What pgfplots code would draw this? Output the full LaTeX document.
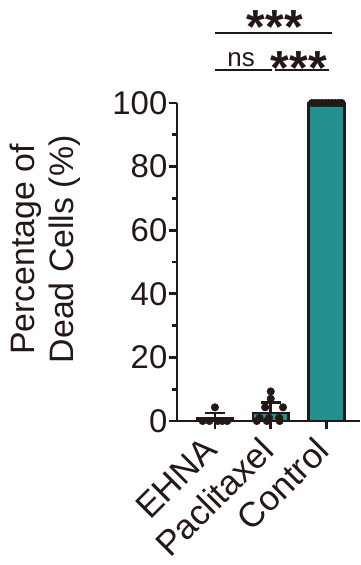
\documentclass[border=0pt]{standalone}
\usepackage{pgfplots}
\pgfplotsset{compat=1.18}
\usepackage{fontspec}
\setmainfont{Liberation Sans}
\definecolor{ink}{HTML}{231815}
\definecolor{tealbar}{HTML}{23908E}
\begin{document}
\begin{tikzpicture}
\path[use as bounding box] (-177bp,-144bp) rectangle (184bp,421bp);
\begin{axis}[
  scale only axis, width=183bp, height=318bp,
  xmin=-0.68, xmax=2.6, ymin=0, ymax=100,
  axis x line*=bottom, axis y line*=left,
  axis line style={ink, line width=2.8bp, -},
  xtick={0,1,2}, xticklabels={EHNA,Paclitaxel,Control},
  ytick={0,20,...,100}, minor ytick={10,30,...,90},
  tick align=outside, major tick length=8bp, minor tick length=5bp,
  every tick/.style={ink, line width=2.8bp},
  ticklabel style={font=\fontsize{33}{38}\selectfont, text=ink},
  yticklabel style={inner sep=1.5bp},
  xticklabel style={font=\fontsize{35}{38}\selectfont, xshift=-13bp, yshift=-6bp, rotate=45, anchor=north east, inner sep=0pt},
  ylabel={Percentage of\\Dead Cells (\%)},
  ylabel style={at={(axis description cs:-0.72,0.54)}, anchor=center, align=center, font=\fontsize{34}{40}\selectfont, text=ink},
  clip=false, axis on top,
  /pgf/number format/assume math mode=true,
]
\addplot[ybar, bar width=0.64, fill=tealbar, draw=ink, line width=2.5bp,
  error bars/.cd, y dir=plus, y explicit,
  error bar style={line width=2.5bp, ink},
  error mark options={rotate=90, line width=2.5bp, ink, mark size=10bp}]
  coordinates {(0,0.72) +- (0,1.75) (1,2.54) +- (0,3.24) (2,100) +- (0,0)};
\addplot[only marks, mark=*, mark size=3.8bp, mark options={fill=ink, draw=ink}]
  coordinates {(0,4.3) (-0.22,0) (-0.1,0) (0.05,0) (0.13,0) (0.22,0)
  (1.0,9.3) (1.0,7.0) (0.9,4.3) (1.22,4.3) (0.8,1.0) (0.97,1.0) (1.15,1.0)
  (0.75,0) (0.93,0) (1.16,0)
  (1.74,100) (1.8,100) (1.86,100) (1.92,100) (1.98,100) (2.04,100) (2.1,100) (2.16,100) (2.22,100) (2.27,100)};
\draw[ink, line width=2.5bp] (axis cs:0,122) -- (axis cs:2.1,122);
\draw[ink, line width=2.5bp] (axis cs:0,110.4) -- (axis cs:1.02,110.4);
\draw[ink, line width=2.5bp] (axis cs:1.07,110.4) -- (axis cs:2.05,110.4);
\node[ink, anchor=base, inner sep=0pt, font=\fontsize{48}{50}\selectfont\bfseries] at (axis cs:1.075,118.7) {***};
\node[ink, anchor=base, inner sep=0pt, font=\fontsize{48}{50}\selectfont\bfseries] at (axis cs:1.505,105.7) {***};
\node[ink, anchor=base, inner sep=0pt, font=\fontsize{26}{28}\selectfont] at (axis cs:0.47,111.6) {ns};
\end{axis}
\end{tikzpicture}
\end{document}
